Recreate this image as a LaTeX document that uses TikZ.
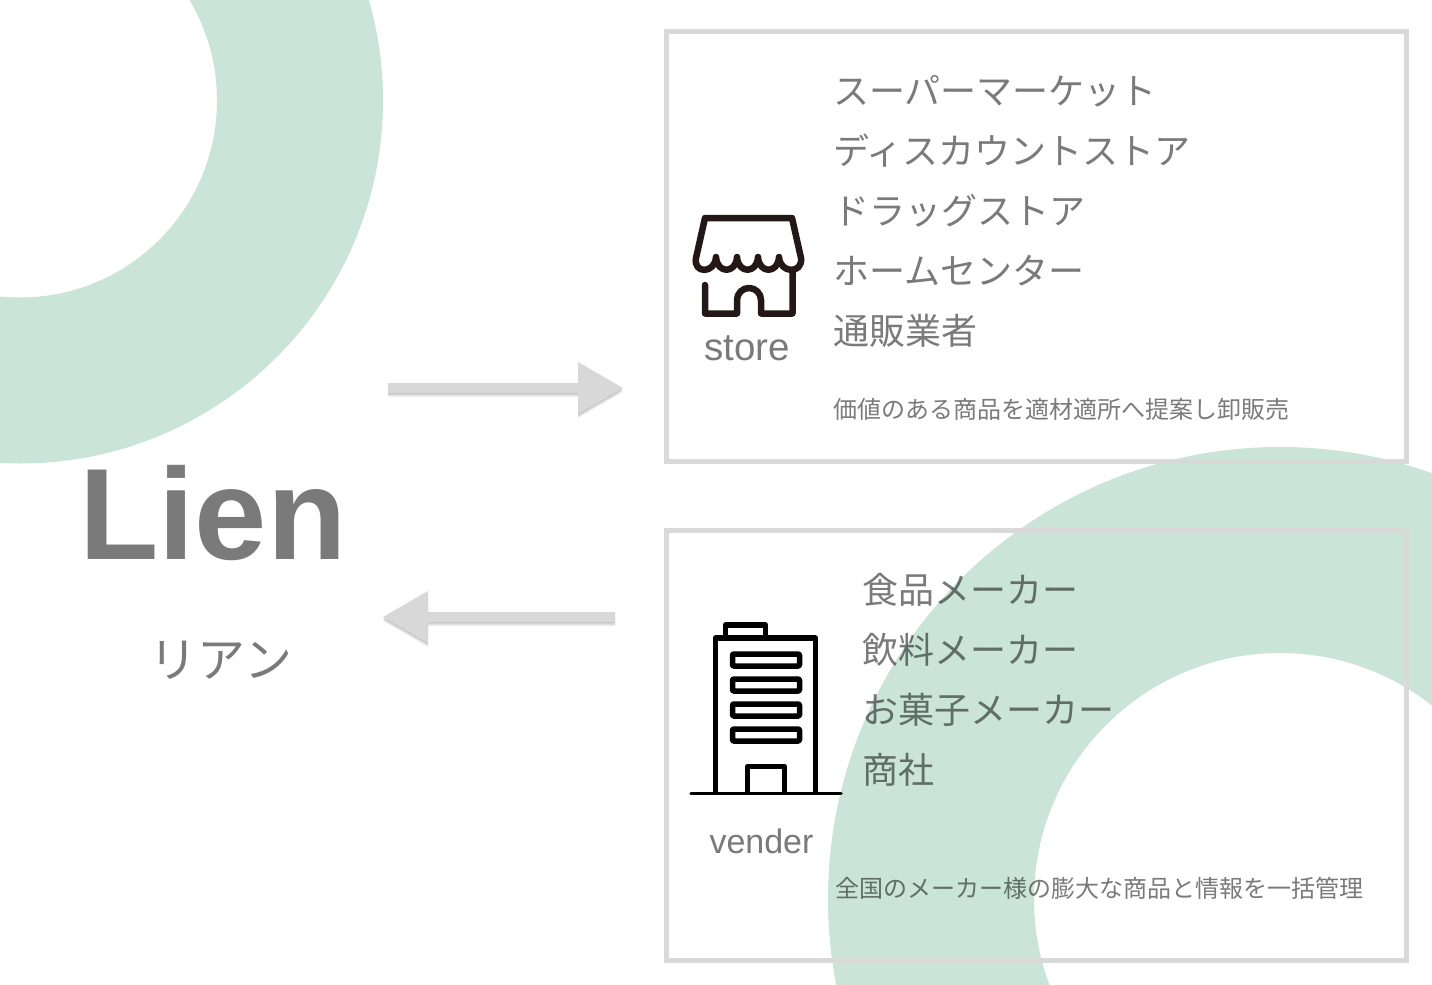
\documentclass[tikz,border=0pt]{standalone}
\usepackage{fontspec}
\setmainfont{Liberation Sans}
\newfontfamily\cjk{Noto Sans CJK JP}
\definecolor{ring}{HTML}{CAE4DA}
\definecolor{frame}{HTML}{D9D9D9}
\definecolor{arrowgray}{HTML}{D8D8D8}
\definecolor{iconbrown}{HTML}{231815}
\tikzset{
  box/.style={draw=frame,line width=5pt,minimum width=740pt,minimum height=430pt,inner sep=0pt},
  inktext/.style={text=black,text opacity=.52,inner sep=0pt},
  bigjp/.style={inktext,font=\fontsize{36}{36}\selectfont\cjk,anchor=west},
  smalljp/.style={inktext,font=\fontsize{24}{24}\selectfont\cjk,anchor=west},
  shop/.style={draw=iconbrown,line width=6.5pt,line cap=round,line join=round},
  tower/.style={draw=black,line width=5.5pt,line join=round},
  arrowbody/.style={fill=arrowgray},
  softshadow/.style={fill=black,opacity=.06}
}
\newcommand{\rightarrowshape}{(388,383) -- (578,383) -- (578,362) -- (623,388) -- (578,414) -- (578,393) -- (388,393) -- cycle}
\newcommand{\leftarrowshape}{(615,612) -- (428,612) -- (428,591) -- (383,617) -- (428,643) -- (428,622) -- (615,622) -- cycle}
\begin{document}
\begin{tikzpicture}[x=1pt,y=-1pt]
\useasboundingbox (0,0) rectangle (1432,985);
\fill[white] (0,0) rectangle (1432,985);
\begin{scope}
\clip (0,0) rectangle (1432,985);
\fill[ring,even odd rule] (20,100.5) circle[radius=363] (20,100.5) circle[radius=197];
\fill[ring,even odd rule] (1280,899) circle[radius=452] (1280,899) circle[radius=246];
\end{scope}
\node[box] (top) at (1036,246) {};
\node[box] (bottom) at (1036,745) {};
% arrows with a soft shadow
\foreach \off in {1,2,3,4}{
  \fill[softshadow,yshift=-\off pt] \rightarrowshape;
  \fill[softshadow,yshift=-\off pt] \leftarrowshape;
}
\fill[arrowbody] \rightarrowshape;
\fill[arrowbody] \leftarrowshape;
% left
\node[inktext,font=\fontsize{130}{130}\selectfont\bfseries] (lien) at (213,513) {Lien};
\node[inktext,font=\fontsize{48}{48}\selectfont\cjk] (kana) at (221,660) {リアン};
% store list
\node[bigjp] (s1) at (833,91) {スーパーマーケット};
\node[bigjp] (s2) at (833,151) {ディスカウントストア};
\node[bigjp] (s3) at (833,211) {ドラッグストア};
\node[bigjp] (s4) at (833,271) {ホームセンター};
\node[bigjp] (s5) at (833,331) {通販業者};
\node[smalljp] (s6) at (833,409) {価値のある商品を適材適所へ提案し卸販売};
\node[bigjp] (v1) at (862,590) {食品メーカー};
\node[bigjp] (v2) at (862,650) {飲料メーカー};
\node[bigjp] (v3) at (862,710) {お菓子メーカー};
\node[bigjp] (v4) at (862,770) {商社};
\node[smalljp] (v5) at (835,888) {全国のメーカー様の膨大な商品と情報を一括管理};
\node[inktext,font=\fontsize{38.5}{38.5}\selectfont] (storel) at (747,348) {store};
\node[inktext,font=\fontsize{34}{34}\selectfont] (venderl) at (761.5,841) {vender};
% store icon
\draw[shop] (705,218) -- (792,218) -- (801,258)
  .. controls (803,274) and (780,274) .. (779,257)
  .. controls (778,274) and (759,274) .. (758,257)
  .. controls (757,274) and (738,274) .. (737,257)
  .. controls (736,274) and (717,274) .. (716,257)
  .. controls (715,274) and (693,274) .. (696,258) -- cycle;
\draw[shop] (705,285) -- (705,313.5) -- (737,313.5) -- (737,300)
  arc[start angle=180,end angle=360,radius=12] -- (761,313.5) -- (792.5,313.5) -- (792.5,270);
% building icon
\draw[tower] (725.5,637) -- (725.5,625) -- (765.5,625) -- (765.5,637);
\draw[tower] (715.5,793) -- (715.5,638) -- (815.5,638) -- (815.5,793);
\draw[draw=black,line width=3.5pt,line cap=round] (691,793.5) -- (841,793.5);
\draw[tower] (747.5,793) -- (747.5,766.5) -- (784.5,766.5) -- (784.5,793);
\foreach \yy in {660,685,710,735}{
  \draw[tower,rounded corners=1pt] (732.5,\yy-6) rectangle (799.5,\yy+6);
}
\end{tikzpicture}
\end{document}
